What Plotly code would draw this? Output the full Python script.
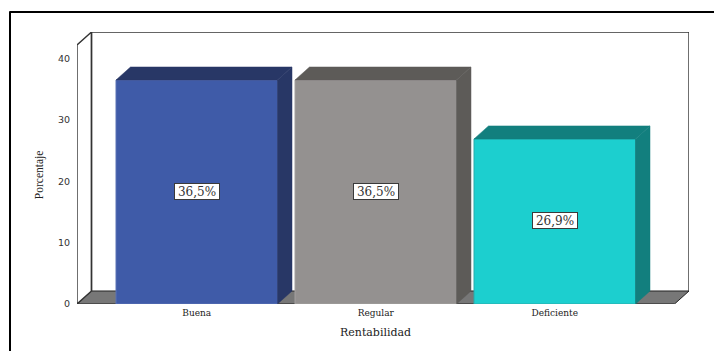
import plotly.graph_objects as go

categories = ["Buena", "Regular", "Deficiente"]
values = [36.5, 36.5, 26.9]
front_colors = ["#3F5BA8", "#949190", "#1CCFCF"]
side_colors = ["#283766", "#5D5B58", "#127F7E"]
y_ticks = [0, 10, 20, 30, 40]

W, H = 714, 351
PX_X0, PX_X1 = 77, 689      # plot area in page pixels
PX_Y0, PX_Y1 = 303.7, 32
PX_PER_CAT, PX_PER_UNIT = 179.0, 6.13
XMIN = -0.669
XMAX = XMIN + (PX_X1 - PX_X0) / PX_PER_CAT
YMAX = (PX_Y0 - PX_Y1) / PX_PER_UNIT
DX, DY = 14.5 / PX_PER_CAT, 13 / PX_PER_UNIT
BAR_W = 161.5 / PX_PER_CAT
FRONT_XMAX = XMAX - DX
FRONT_YMAX = YMAX - DY

SERIF = "DejaVu Serif"
fig = go.Figure()

fig.add_trace(go.Bar(
    x=list(range(len(categories))), y=values, width=BAR_W,
    marker=dict(color=front_colors, line=dict(color=["#5B72B4", "#A3A09F", "#2AA9A9"], width=1)),
    hoverinfo="skip", showlegend=False,
))

for i, (v, side) in enumerate(zip(values, side_colors)):
    l, r = i - BAR_W / 2, i + BAR_W / 2
    fig.add_trace(go.Scatter(
        x=[l, r, r + DX, l + DX, l], y=[v, v, v + DY, v + DY, v],
        mode="lines", fill="toself", fillcolor=side,
        line=dict(color=side, width=0.5), hoverinfo="skip", showlegend=False))
    fig.add_trace(go.Scatter(
        x=[r, r + DX, r + DX, r, r], y=[0, DY, v + DY, v, 0],
        mode="lines", fill="toself", fillcolor=side,
        line=dict(color=side, width=0.5), hoverinfo="skip", showlegend=False))

def poly(xs, ys, **kw):
    path = "M" + " L".join(f"{x},{y}" for x, y in zip(xs, ys))
    return dict(type="path", path=path, xref="x", yref="y", layer="below", **kw)

def px_x(p):
    return (p - PX_X0) / (PX_X1 - PX_X0)

def px_y(p):
    return (PX_Y0 - p) / (PX_Y0 - PX_Y1)

edge = dict(color="#333333", width=1.4)
shapes = [
    # floor
    poly([XMIN, FRONT_XMAX, XMAX, XMIN + DX, XMIN], [0, 0, DY, DY, 0],
         fillcolor="#777777", line=dict(color="#222222", width=1)),
    # left wall
    poly([XMIN, XMIN, XMIN + DX, XMIN + DX, XMIN], [0, FRONT_YMAX, YMAX, DY, 0],
         fillcolor="white", line=edge),
    # back wall
    poly([XMIN + DX, XMIN + DX, XMAX, XMAX], [DY, YMAX, YMAX, DY],
         line=edge),
    # page frame
    dict(type="line", xref="paper", yref="paper",
         x0=px_x(9.5), x1=px_x(W), y0=px_y(12), y1=px_y(12),
         line=dict(color="black", width=2)),
    dict(type="line", xref="paper", yref="paper",
         x0=px_x(10), x1=px_x(10), y0=px_y(11.5), y1=px_y(H),
         line=dict(color="black", width=2)),
]

annotations = [
    dict(x=i, y=v / 2, xref="x", yref="y", text=f"{v:.1f}%".replace(".", ","),
         showarrow=False, bgcolor="white", bordercolor="#3A3A3A", borderwidth=1,
         borderpad=0, width=44, height=15, yshift=0.6, align="center",
         font=dict(family=SERIF, size=12, color="#333333"))
    for i, v in enumerate(values)
]
annotations.append(dict(
    x=1, y=px_y(332), xref="x", yref="paper", text="Rentabilidad", showarrow=False,
    xanchor="center", yanchor="middle",
    font=dict(family=SERIF, size=11, color="#222222")))
annotations.append(dict(
    x=px_x(39), y=px_y(175), xref="paper", yref="paper", text="Porcentaje", showarrow=False,
    textangle=-90, xanchor="center", yanchor="middle",
    font=dict(family="Liberation Serif", size=11.5, color="#222222")))

fig.update_layout(
    width=W, height=H, autosize=False,
    margin=dict(l=PX_X0, r=W - PX_X1, t=PX_Y1, b=H - PX_Y0, pad=0),
    paper_bgcolor="white", plot_bgcolor="white",
    shapes=shapes, annotations=annotations, showlegend=False,
    xaxis=dict(range=[XMIN, XMAX], tickmode="array", tickvals=list(range(len(categories))),
               ticktext=categories, showgrid=False, zeroline=False, showline=False,
               ticks="", ticklabelstandoff=2,
               tickfont=dict(family=SERIF, size=9, color="#222222")),
    yaxis=dict(range=[0, YMAX], tickmode="array", tickvals=y_ticks, showgrid=False,
               zeroline=False, showline=False, ticks="", ticklabelstandoff=6,
               tickfont=dict(family="DejaVu Sans", size=9.5, color="#333333")),
)

fig.write_html("out.html", config=dict(displayModeBar=False),
               post_script="document.body.style.margin='0';document.documentElement.style.overflow='hidden';")
